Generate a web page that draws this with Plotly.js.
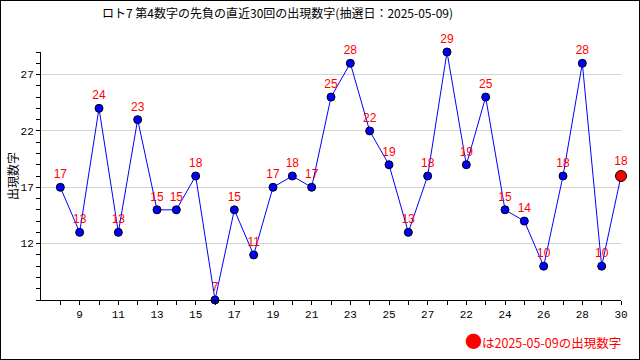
<!DOCTYPE html>
<html>
<head>
<meta charset="utf-8">
<script src="https://cdn.plot.ly/plotly-3.0.1.min.js"></script>
<style>
html,body{margin:0;padding:0;background:#fff;}
#chart{width:638px;height:358px;border:1px solid #000;}
</style>
</head>
<body>
<div id="chart"></div>
<script>
// Draw index (1..30), appearance numbers, and x tick labels shown under even draws
const drawIndex = [1,2,3,4,5,6,7,8,9,10,11,12,13,14,15,16,17,18,19,20,21,22,23,24,25,26,27,28,29,30];
const values = [17,13,24,13,23,15,15,18,7,15,11,17,18,17,25,28,22,19,13,18,29,19,25,15,14,10,18,28,10,18];
const xTickLabels = ['','9','','11','','13','','15','','17','','19','','21','','23','','25','','27','','22','','24','','26','','28','','30'];
const yTickVals = [12,17,22,27];
const titleText = 'ロト7 第4数字の先負の直近30回の出現数字(抽選日：2025-05-09)';
const yTitle = '出現数字';
const legendText = 'は2025-05-09の出現数字';

const n = values.length;
const markerColors = values.map((v,i)=> i===n-1 ? '#ff0000' : '#0000ff');
const markerSizes = values.map((v,i)=> i===n-1 ? 11 : 8);

const trace = {
  x: drawIndex,
  y: values,
  mode: 'lines+markers+text',
  type: 'scatter',
  line: {color:'#0000ff', width:1},
  marker: {color: markerColors, size: markerSizes, opacity:1, line:{color:'#000', width:1}},
  text: values.map(String),
  textposition: 'top center',
  textfont: {family:'Liberation Sans, Arial, sans-serif', size:12, color:'#ff0000'},
  cliponaxis: false,
  hoverinfo: 'none'
};

const layout = {
  width: 638, height: 358,
  margin: {l:40, r:18, t:51, b:59},
  paper_bgcolor:'#fff', plot_bgcolor:'#fff',
  showlegend: false,
  font: {family:'Liberation Mono, DejaVu Sans Mono, monospace', size:11, color:'#000'},
  xaxis: {
    range:[0,30], showgrid:false, zeroline:false,
    showline:true, linecolor:'#000', linewidth:1,
    tickmode:'array', tickvals: drawIndex, ticktext: xTickLabels,
    ticks:'outside', ticklen:4, tickcolor:'#000',
    tickfont:{family:'Liberation Mono, DejaVu Sans Mono, monospace', size:11, color:'#000'}
  },
  yaxis: {
    range:[7,29], zeroline:false,
    showline:true, linecolor:'#000', linewidth:1,
    tickmode:'array', tickvals: yTickVals, ticktext: yTickVals.map(String),
    ticks:'outside', ticklen:4, tickcolor:'#000',
    showgrid:true, gridcolor:'#d3d3d3', gridwidth:1,
    minor:{dtick:1, tick0:7, ticks:'outside', ticklen:4, tickcolor:'#000', showgrid:false},
    tickfont:{family:'Liberation Mono, DejaVu Sans Mono, monospace', size:11, color:'#000'}
  },
  annotations: [
    {text:titleText, xref:'paper', yref:'paper', x:0, xshift:59, xanchor:'left',
     y:1, yshift:40, yanchor:'middle', showarrow:false,
     font:{family:'Noto Sans CJK JP, sans-serif', size:12, color:'#000'}},
    {text:yTitle, xref:'paper', yref:'paper', x:0, xshift:-29, xanchor:'center',
     y:0.5, yshift:0, yanchor:'middle', textangle:-90, showarrow:false,
     font:{family:'Noto Sans CJK JP, sans-serif', size:12, color:'#000'}},
    {text:'<span style="font-size:17px">●</span>' + legendText, xref:'paper', yref:'paper', x:1, xshift:2, xanchor:'right',
     y:0, yshift:-40, yanchor:'middle', showarrow:false,
     font:{family:'Noto Sans CJK JP, sans-serif', size:12.5, color:'#ff0000'}}
  ]
};

Plotly.newPlot('chart', [trace], layout, {staticPlot:true, displayModeBar:false});
</script>
</body>
</html>
